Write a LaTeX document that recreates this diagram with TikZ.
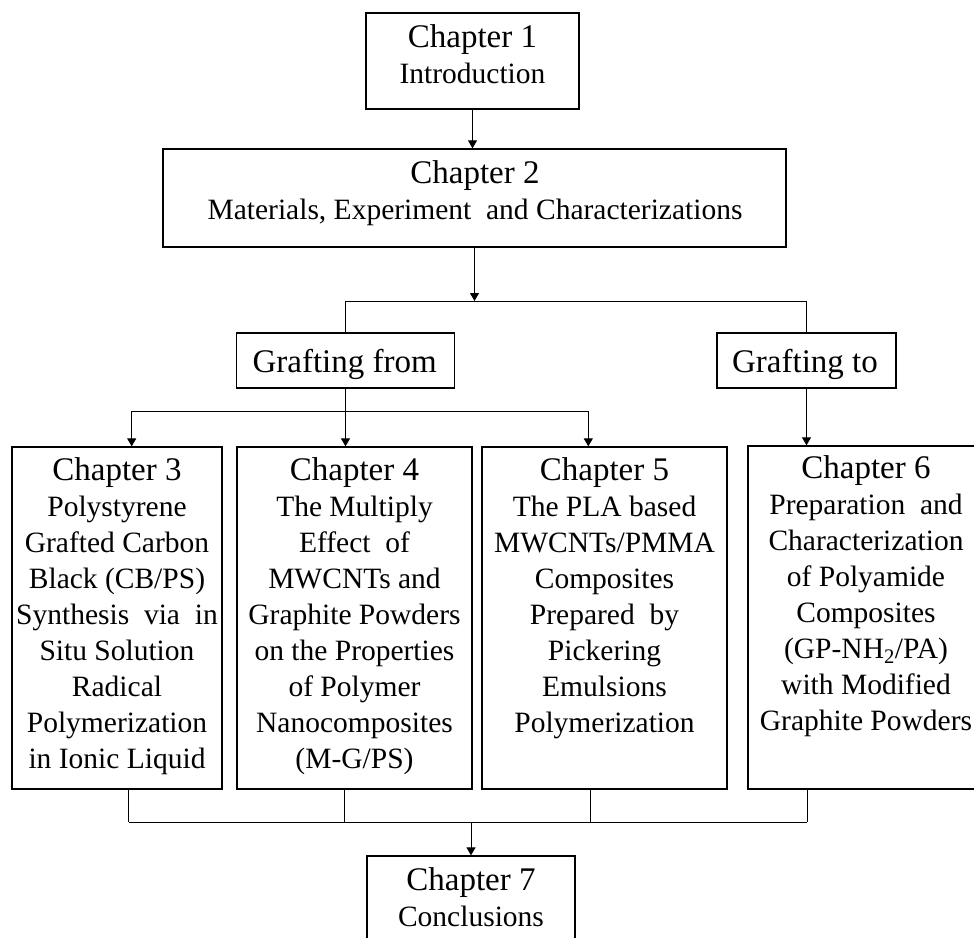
\documentclass[tikz,border=0pt]{standalone}
\usepackage{fontspec}
\setmainfont{Liberation Serif}
\usetikzlibrary{arrows.meta}
\newcommand{\bodyfont}{\fontsize{29.5}{36}\selectfont}
\newcommand{\headfont}{\fontsize{33}{36}\selectfont}
\newcommand{\hd}[1]{\rule{0pt}{25pt}{\headfont #1}}
\begin{document}
\begin{tikzpicture}[x=1pt,y=-1pt,
  box/.style={draw, line width=1.3pt, inner sep=0pt},
  txt/.style={align=center, anchor=north, inner sep=0pt, font=\bodyfont},
  conn/.style={line width=1pt},
  arr/.style={conn, -{Triangle[length=8pt,width=9pt]}}]
\useasboundingbox (0,0) rectangle (974,937);
\clip (0,0) rectangle (974,937);
% boxes
\node[box, minimum width=213pt, minimum height=96pt] (c1) at (472.5,61) {};
\node[box, minimum width=623pt, minimum height=98pt] (c2) at (474.5,198) {};
\node[box, minimum width=218pt, minimum height=55pt] (gf) at (345.5,360.5) {};
\node[box, minimum width=179pt, minimum height=55pt] (gt) at (806.5,360.5) {};
\node[box, minimum width=210pt, minimum height=342pt] (c3) at (117,618) {};
\node[box, minimum width=235pt, minimum height=342pt] (c4) at (354.5,618) {};
\node[box, minimum width=245pt, minimum height=342pt] (c5) at (604.5,618) {};
\node[box, minimum width=237pt, minimum height=343pt] (c6) at (866.5,617.5) {};
\node[box, minimum width=208pt, minimum height=104pt] (c7) at (471,908) {};
% texts
\node[txt] (t1) at (472.5,22) {\hd{Chapter 1}\\Introduction};
\node[txt] (t2) at (475,158) {\hd{Chapter 2}\\Materials,\ Experiment\ \ and Characterizations};
\node[anchor=base, inner sep=0pt, font=\headfont] (tgf) at (344.7,372) {Grafting from};
\node[anchor=base, inner sep=0pt, font=\headfont] (tgt) at (805,372) {Grafting to};
\node[txt] (t3) at (117,455) {\hd{Chapter 3}\\Polystyrene\\Grafted\ Carbon\\Black (CB/PS)\\Synthesis\ \ via\ \ in\\Situ Solution\\Radical\\Polymerization\\in Ionic\ Liquid};
\node[txt] (t4) at (354.5,455) {\hd{Chapter 4}\\The Multiply\\Effect\ \ of\\MWCNTs and\\Graphite Powders\\on the Properties\\of Polymer\\Nanocomposites\\(M-G/PS)};
\node[txt] (t5) at (604.5,455) {\hd{Chapter 5}\\The PLA based\\MWCNTs/PMMA\\Composites\\Prepared\ \ by\\Pickering\\Emulsions\\Polymerization};
\node[txt] (t6) at (866,453) {\hd{Chapter 6}\\Preparation\ \ and\\Characterization\\of Polyamide\\Composites\\(GP-NH\textsubscript{2}/PA)\\with Modified\\Graphite Powders};
\node[txt] (t7) at (471,865) {\hd{Chapter 7}\\Conclusions};
% connectors
\draw[arr] (c1.south) -- (c1.south |- c2.north);
\coordinate (j1) at (474.5,301);
\draw[arr] (c2.south) -- (j1);
\draw[conn] (gf.north |- j1) -- (gt.north |- j1);
\draw[conn] (gf.north |- j1) -- (gf.north);
\draw[conn] (gt.north |- j1) -- (gt.north);
\coordinate (a3) at (131.7,411);
\coordinate (a5) at (588.3,411);
\draw[conn] (gf.south) -- (gf.south |- a3);
\draw[conn] (a3) -- (a5);
\draw[arr] (a3) -- (a3 |- c3.north);
\draw[arr] (gf.south |- a3) -- (gf.south |- c4.north);
\draw[arr] (a5) -- (a5 |- c5.north);
\draw[arr] (gt.south) -- (gt.south |- c6.north);
\coordinate (b3) at (128.5,822);
\coordinate (b4) at (344.3,822);
\coordinate (b5) at (590,822);
\coordinate (b6) at (807,822);
\draw[conn] (b3 |- c3.south) -- (b3);
\draw[conn] (b4 |- c4.south) -- (b4);
\draw[conn] (b5 |- c5.south) -- (b5);
\draw[conn] (b6 |- c6.south) -- (b6);
\draw[conn] (b3) -- (b6);
\draw[arr] (c7.north |- b3) -- (c7.north);
\end{tikzpicture}
\end{document}
